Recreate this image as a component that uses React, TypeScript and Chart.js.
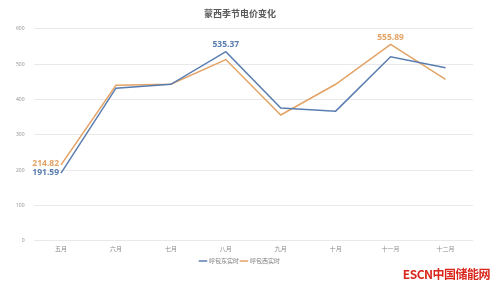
import React, { useEffect, useRef } from "react";
import { Chart, registerables } from "chart.js";

Chart.register(...registerables);

const categories = ["五月", "六月", "七月", "八月", "九月", "十月", "十一月", "十二月"];
const eastValues = [191.59, 432, 443, 535.37, 376, 367, 521, 490];
const westValues = [214.82, 440, 443, 513, 356, 443, 555.89, 457];
const yTicks = [0, 100, 200, 300, 400, 500, 600];
const seriesNames = ["呼包东实时", "呼包西实时"];

const BLUE = "#5a7db0";
const ORANGE = "#e2a365";

const labelPlugin = {
  id: "pointLabels",
  afterDatasetsDraw(chart: any) {
    const ctx = chart.ctx;
    const specs = [
      { ds: 0, idx: 0, pos: "left" },
      { ds: 0, idx: 3, pos: "top" },
      { ds: 1, idx: 0, pos: "left" },
      { ds: 1, idx: 6, pos: "top" },
    ];
    ctx.save();
    ctx.font = "bold 8.5px 'Open Sans', 'Noto Sans', sans-serif";
    for (const s of specs) {
      const meta = chart.getDatasetMeta(s.ds);
      const el = meta.data[s.idx];
      const v = chart.data.datasets[s.ds].data[s.idx] as number;
      const text = v.toFixed(2);
      ctx.fillStyle = chart.data.datasets[s.ds].borderColor;
      if (s.pos === "left") {
        ctx.textAlign = "right";
        ctx.textBaseline = "middle";
        ctx.fillText(text, el.x - 2, el.y - 1);
      } else {
        ctx.textAlign = "center";
        ctx.textBaseline = "bottom";
        ctx.fillText(text, el.x, el.y - 3);
      }
    }
    ctx.restore();
  },
};

export default function App() {
  const ref = useRef<HTMLCanvasElement>(null);
  useEffect(() => {
    if (!ref.current) return;
    const chart = new Chart(ref.current, {
      type: "line",
      data: {
        labels: categories,
        datasets: [
          {
            label: seriesNames[0],
            data: eastValues,
            borderColor: BLUE,
            backgroundColor: BLUE,
            borderWidth: 1.5,
            pointRadius: 0,
            tension: 0,
          },
          {
            label: seriesNames[1],
            data: westValues,
            borderColor: ORANGE,
            backgroundColor: ORANGE,
            borderWidth: 1.5,
            pointRadius: 0,
            tension: 0,
          },
        ],
      },
      options: {
        animation: false,
        responsive: false,
        layout: { padding: { left: 7, right: 27, top: 2, bottom: 12 } },
        plugins: {
          title: {
            display: true,
            text: "蒙西季节电价变化",
            color: "#595959",
            font: { size: 9, family: "'Noto Sans CJK SC', sans-serif" },
            padding: { top: 6, bottom: 10 },
          },
          legend: {
            position: "bottom",
            labels: {
              usePointStyle: true,
              pointStyle: "line",
              boxWidth: 12,
              color: "#7f7f7f",
              font: { size: 6, family: "'Noto Sans CJK SC', sans-serif" },
              padding: 2,
            },
          },
          tooltip: { enabled: false },
        },
        scales: {
          x: {
            offset: true,
            grid: { display: false, drawTicks: false },
            border: { display: false },
            ticks: {
              color: "#8c8c8c",
              font: { size: 6, family: "'Noto Sans CJK SC', sans-serif" },
              padding: 4,
            },
          },
          y: {
            min: 0,
            max: 600,
            afterBuildTicks: (axis: any) => {
              axis.ticks = yTicks.map((v) => ({ value: v }));
            },
            grid: { color: "#e9e9e9", drawTicks: false },
            border: { display: false },
            ticks: {
              color: "#8c8c8c",
              font: { size: 5, family: "'Open Sans', sans-serif" },
              padding: 9,
            },
          },
        },
      },
      plugins: [labelPlugin],
    });
    return () => chart.destroy();
  }, []);
  return (
    <div style={{ position: "fixed", left: 0, top: 0, width: 500, height: 286, background: "#fff" }}>
      <canvas ref={ref} width={500} height={286} style={{ width: 500, height: 286 }} />
      <div
        style={{
          position: "absolute",
          right: 10,
          bottom: 5,
          color: "#d9261c",
          fontWeight: "bold",
          fontSize: 12,
          lineHeight: "14px",
          fontFamily: "'Noto Sans CJK SC', 'Liberation Sans', sans-serif",
          letterSpacing: -0.5,
        }}
      >
        ESCN中国储能网
      </div>
    </div>
  );
}
